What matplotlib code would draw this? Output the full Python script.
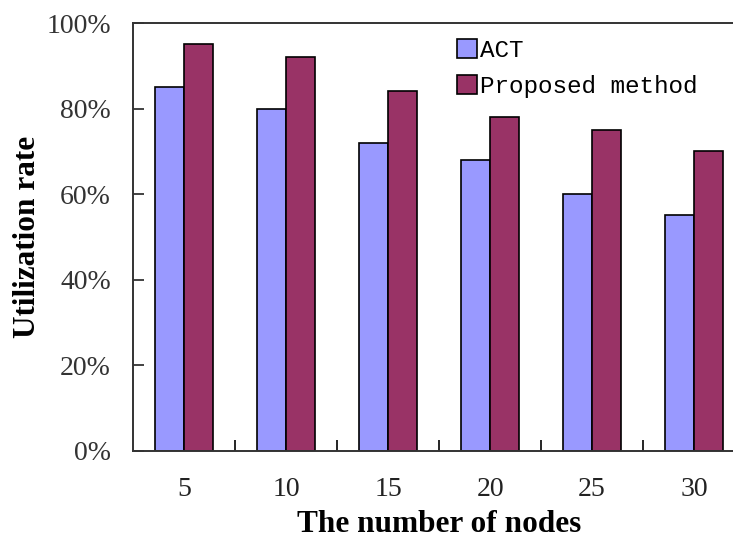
import numpy as np
import matplotlib
matplotlib.use('Agg')
import matplotlib.pyplot as plt
from matplotlib.ticker import FuncFormatter

nodes = ['5', '10', '15', '20', '25', '30']
act = [85, 80, 72, 68, 60, 55]
proposed = [95, 92, 84, 78, 75, 70]

plt.rcParams['font.family'] = 'Liberation Serif'

fig = plt.figure(figsize=(7.33, 5.4), dpi=100)
# axes run slightly past the right edge of the image
ax = fig.add_axes([0.1815, 0.1654, 0.835, 0.792])

x = np.arange(len(nodes))
w = 0.285
ax.bar(x - w / 2, act, w, color='#9999FF', edgecolor='black', linewidth=1.2, label='ACT')
ax.bar(x + w / 2, proposed, w, color='#993366', edgecolor='black', linewidth=1.2, label='Proposed method')

ax.set_xlim(-0.5, len(nodes) - 0.5)
ax.set_ylim(0, 100)
ax.set_yticks(range(0, 101, 20))
ax.yaxis.set_major_formatter(FuncFormatter(lambda v, _: f'{v:.0f}%'))
ax.set_xticks(x)
ax.set_xticklabels(nodes)
ax.set_xticks(x[:-1] + 0.5, minor=True)
ax.tick_params(axis='x', which='major', length=0, pad=19, labelsize=20, colors='#222222')
ax.tick_params(axis='x', which='minor', direction='in', length=8, width=1.2)
ax.tick_params(axis='y', direction='in', length=8, width=1.2, pad=16, labelsize=20, colors='#222222')
for lbl in ax.get_yticklabels():
    lbl.set_color('#333333')

for s in ['top', 'left', 'bottom']:
    ax.spines[s].set_linewidth(1.4)
    ax.spines[s].set_color('#333333')
ax.spines['right'].set_visible(False)

ax.set_xlabel('The number of nodes', fontsize=22.5, fontweight='bold', labelpad=6)
ax.set_ylabel('Utilization rate', fontsize=22.5, fontweight='bold', labelpad=3)

ax.legend(loc='upper left', bbox_to_anchor=(0.493, 1.014), frameon=False,
          prop={'family': 'Liberation Mono', 'size': 17.5},
          handlelength=0.82, handleheight=0.82, handletextpad=0.15, labelspacing=0.55)

fig.savefig('out.png', dpi=100)
